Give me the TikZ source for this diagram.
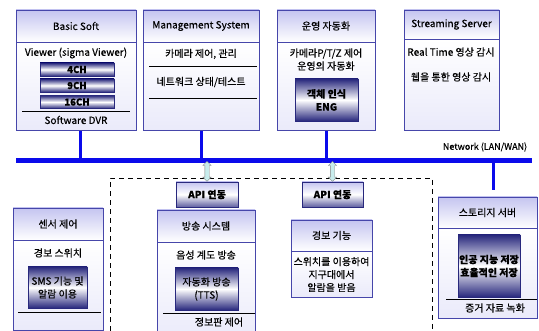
\documentclass[tikz,border=0pt]{standalone}
\usepackage{fontspec}
\setmainfont{Noto Sans CJK KR}[FakeBold=0.35]
\usetikzlibrary{positioning,shapes.arrows,calc}

\definecolor{boxline}{RGB}{70,70,170}
\definecolor{hdrtop}{RGB}{196,196,240}
\definecolor{bodybot}{RGB}{234,234,250}
\definecolor{inkdark}{RGB}{40,40,125}
\definecolor{apibot}{RGB}{95,95,160}
\definecolor{netblue}{RGB}{10,10,235}
\definecolor{arrowfill}{RGB}{200,236,236}

\tikzset{
  hdr/.style={draw=boxline,thick,top color=hdrtop,bottom color=white,inner sep=0pt,font=\fontsize{10}{12}\selectfont},
  body/.style={draw=boxline,thick,top color=white,bottom color=bodybot,inner sep=0pt},
  txt/.style={inner sep=0pt,align=center,font=\fontsize{10}{13}\selectfont},
  darkbox/.style={draw=inkdark,thick,top color=inkdark,bottom color=inkdark,middle color=white,align=center,inner sep=0pt,font=\bfseries\fontsize{10}{13}\selectfont},
  chbar/.style={draw=inkdark,thick,top color=inkdark,bottom color=inkdark,middle color=white,minimum width=74pt,minimum height=13pt,inner sep=0pt,font=\bfseries\fontsize{9.5}{10}\selectfont},
  apibox/.style={draw=inkdark,thick,top color=hdrtop,bottom color=apibot,middle color=white,minimum height=25pt,inner sep=0pt,font=\bfseries\fontsize{10}{12}\selectfont},
  sep/.style={draw=black,thin},
  bus/.style={draw=netblue,line width=5pt},
  drop/.style={draw=netblue,line width=3pt},
  dblarrow/.style={double arrow,draw=gray,fill=arrowfill,minimum height=20pt,inner sep=2pt,double arrow head extend=2pt,rotate=90}
}

\begin{document}
\begin{tikzpicture}[x=1pt,y=-1pt]
\useasboundingbox (0,0) rectangle (539,331);
\clip (0,0) rectangle (539,331);

% top row
\node[hdr,minimum width=120pt,minimum height=32pt] (bs) at (76,26) {Basic Soft};
\node[body,minimum width=120pt,minimum height=88pt,below=0pt of bs] (bsb) {};
\node[txt] (bsv) at (76,53) {Viewer (sigma Viewer)};
\node[chbar] (ch4) at (77,69.5) {4CH};
\node[chbar] (ch9) at (77,85.5) {9CH};
\node[chbar] (ch16) at (77,102) {16CH};
\draw[sep] (22,111) -- (130,111);
\node[txt] (dvr) at (76,120) {Software DVR};

\node[hdr,minimum width=116pt,minimum height=32pt] (ms) at (201,26) {Management System};
\node[body,minimum width=116pt,minimum height=88pt,below=0pt of ms] (msb) {};
\node[txt] (ms1) at (201,54) {카메라 제어, 관리};
\draw[sep] (149,66) -- (257,66);
\node[txt] (ms2) at (201,82) {네트워크 상태/테스트};
\draw[sep] (149,98) -- (257,98);

\node[hdr,minimum width=98pt,minimum height=32pt] (op) at (326,26) {운영 자동화};
\node[body,minimum width=98pt,minimum height=88pt,below=0pt of op] (opb) {};
\node[txt] (op1) at (326,59.5) {카메라P/T/Z 제어\\운영의 자동화};
\node[darkbox,minimum width=63pt,minimum height=42pt] (obj) at (326.5,100) {객체 인식\\ENG};

\node[hdr,minimum width=95pt,minimum height=29pt] (ss) at (451.5,24.5) {Streaming Server};
\node[body,minimum width=95pt,minimum height=91pt,below=0pt of ss] (ssb) {};
\node[txt] (ss1) at (451,52) {Real Time 영상 감시};
\node[txt] (ss2) at (451,77) {웹을 통한 영상 감시};

% network
\coordinate (netw) at (16,161);
\coordinate (nete) at (532,161);
\draw[bus] (netw) -- (nete);
\node[txt,font=\fontsize{9}{10}\selectfont] (netl) at (485,147) {Network (LAN/WAN)};

\draw[drop] ([xshift=4pt]bsb.south) -- ([xshift=4pt]bsb.south |- netw);
\draw[drop] (msb.south) -- (msb.south |- netw);
\draw[drop] (opb.south) -- (opb.south |- netw);
\coordinate (stdrop) at (493,190);
\draw[drop] (stdrop |- netw) -- (stdrop);

% API area
\draw[dashed,thick,dash pattern=on 5pt off 4pt] (110,340) -- (110,178) -- (432,178) -- (432,340);

\node[apibox,minimum width=62pt] (api1) at (207,194.5) {API 연동};
\node[apibox,minimum width=61pt] (api2) at (332.5,194.5) {API 연동};
\node[dblarrow] (ar1) at ($(api1.north)!0.5!(api1.north |- netw)$) {};
\node[dblarrow] (ar2) at ($(api2.north)!0.5!(api2.north |- netw)$) {};

% bottom row
\node[hdr,minimum width=90pt,minimum height=32pt] (sn) at (58,224) {센서 제어};
\node[body,minimum width=90pt,minimum height=90pt,below=0pt of sn] (snb) {};
\node[txt] (sn1) at (58,253) {경보 스위치};
\node[darkbox,minimum width=59pt,minimum height=41pt,font=\fontsize{10}{13}\selectfont] (sms) at (57.5,287.5) {SMS 기능 및\\알람 이용};
\draw[sep] (18,312) -- (101,312);

\node[hdr,minimum width=98pt,minimum height=32pt] (bc) at (206,226) {방송 시스템};
\node[body,minimum width=98pt,minimum height=98pt,below=0pt of bc] (bcb) {};
\node[txt] (bc1) at (206,255) {음성 계도 방송};
\node[darkbox,minimum width=63pt,minimum height=42pt,font=\fontsize{10}{13}\selectfont] (tts) at (206.5,289) {자동화 방송\\(TTS)};
\draw[sep] (163,313) -- (255,313);
\node[txt] (bc2) at (219,322) {정보판 제어};

\node[hdr,minimum width=81pt,minimum height=31pt] (al) at (331.5,235.5) {경보 기능};
\node[body,minimum width=81pt,minimum height=46pt,below=0pt of al] (alb) {};
\node[txt] (al1) at (331.5,274.5) {스위치를 이용하여\\지구대에서\\알람을 받음};

\node[hdr,minimum width=99pt,minimum height=31pt] (st) at (487.5,212.5) {스토리지 서버};
\node[body,minimum width=99pt,minimum height=90pt,below=0pt of st] (stb) {};
\node[darkbox,minimum width=62pt,minimum height=62pt] (ai) at (489,266) {인공 지능 저장\\효율적인 저장};
\draw[sep] (446,299) -- (537,299);
\node[txt] (st1) at (495,308) {증거 자료 녹화};
\end{tikzpicture}
\end{document}
